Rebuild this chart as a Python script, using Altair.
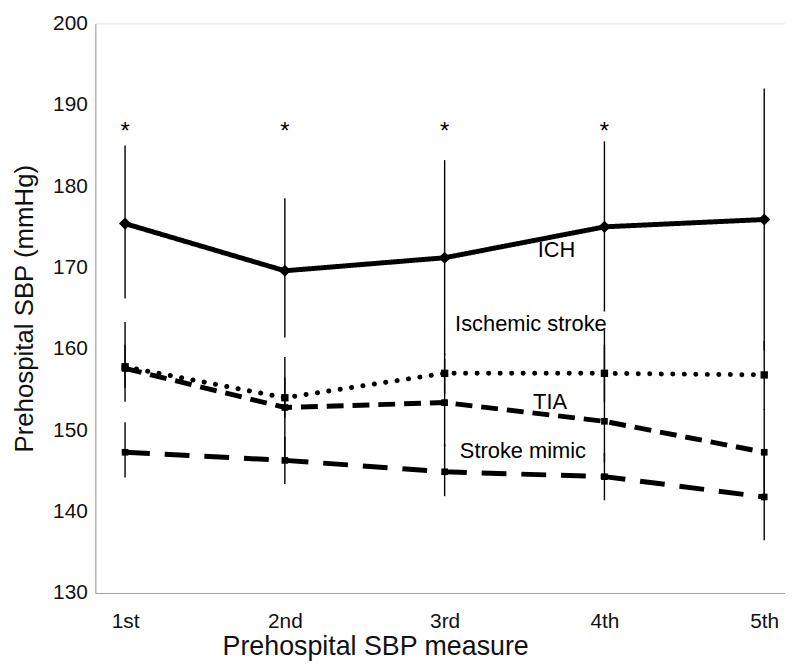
import altair as alt
import pandas as pd

# ---- data ----
measures = ["1st", "2nd", "3rd", "4th", "5th"]
measure_idx = [1, 2, 3, 4, 5]

ich_mean = [175.4, 169.6, 171.2, 175.0, 175.9]
ich_lo = [166.2, 161.4, 159.2, 164.6, 159.8]
ich_hi = [185.0, 178.5, 183.2, 185.5, 192.0]

isch_mean = [157.8, 154.0, 157.0, 157.0, 156.8]
isch_lo = [155.2, 151.5, 154.5, 153.5, 152.5]
isch_hi = [160.5, 156.5, 159.5, 160.5, 161.0]

tia_mean = [157.6, 152.8, 153.4, 151.1, 147.3]
tia_lo = [153.5, 146.6, 148.0, 146.0, 142.0]
tia_hi = [163.3, 159.0, 158.8, 162.4, 152.6]

mimic_mean = [147.3, 146.3, 144.9, 144.3, 141.8]
mimic_lo = [144.2, 143.4, 141.9, 141.4, 136.5]
mimic_hi = [151.0, 149.2, 148.3, 147.2, 147.1]

significance = ["*", "*", "*", "*", ""]
sig_y = [186.6, 186.6, 186.6, 186.6, 186.6]

series_names = ["ICH", "Ischemic stroke", "TIA", "Stroke mimic"]
label_x = [3.7, 3.54, 3.66, 3.49]
label_y = [172.1, 163.0, 153.5, 147.4]

y_ticks = [130, 140, 150, 160, 170, 180, 190, 200]

# ---- build tables ----
series_data = {
    "ICH": (ich_mean, ich_lo, ich_hi),
    "Ischemic stroke": (isch_mean, isch_lo, isch_hi),
    "TIA": (tia_mean, tia_lo, tia_hi),
    "Stroke mimic": (mimic_mean, mimic_lo, mimic_hi),
}
rows = []
for name, (m, lo, hi) in series_data.items():
    for i, idx in enumerate(measure_idx):
        rows.append({"series": name, "idx": idx, "measure": measures[i],
                     "mean": m[i], "lo": lo[i], "hi": hi[i]})
df = pd.DataFrame(rows)

sig_df = pd.DataFrame({"idx": measure_idx, "sig": significance, "y": sig_y})
lab_df = pd.DataFrame({"name": series_names, "x": label_x, "y": label_y})

FONT = "Liberation Sans"
label_expr = "[" + ",".join("'%s'" % m for m in measures) + "][datum.value - 1]"

x_scale = alt.Scale(domain=[0.814, 5.13], nice=False, zero=False)
y_scale = alt.Scale(domain=[130, 200], nice=False, zero=False)

x_enc = alt.X("idx:Q", scale=x_scale,
              axis=alt.Axis(values=measure_idx, labelExpr=label_expr,
                            title="Prehospital SBP measure", grid=False,
                            ticks=False, tickSize=0, labelPadding=18,
                            titleX=282, titleY=54, titleBaseline="middle",
                            labelFontSize=21, titleFontSize=27,
                            labelColor="#111", titleColor="#111",
                            titleFontWeight="normal", domainColor="#a0a0a0",
                            labelFont=FONT, titleFont=FONT))
y_enc_axis = alt.Axis(values=y_ticks, title="Prehospital SBP (mmHg)", grid=False,
                      ticks=False, tickSize=0, labelPadding=8, titlePadding=15,
                      labelFontSize=21, titleFontSize=26, labelColor="#111",
                      titleColor="#111", titleFontWeight="normal",
                      domainColor="#a0a0a0", labelFont=FONT, titleFont=FONT)

base = alt.Chart(df)

errbars = base.mark_rule(color="black", strokeWidth=1.4).encode(
    x=x_enc,
    y=alt.Y("lo:Q", scale=y_scale, axis=y_enc_axis),
    y2="hi:Q",
)

styles = {
    "ICH": dict(strokeDash=[1, 0], strokeCap="butt", shape="diamond", size=150),
    "Ischemic stroke": dict(strokeDash=[0.1, 11.5], strokeCap="round", shape="square", size=55),
    "TIA": dict(strokeDash=[17, 9], strokeCap="butt", shape="square", size=45),
    "Stroke mimic": dict(strokeDash=[25, 15], strokeCap="butt", shape="square", size=45),
}

layers = [errbars]
for name in series_names:
    st = styles[name]
    sub = base.transform_filter(alt.datum.series == name)
    line = sub.mark_line(color="black", strokeWidth=5, strokeDash=st["strokeDash"],
                         strokeCap=st["strokeCap"]).encode(
        x=alt.X("idx:Q", scale=x_scale), y=alt.Y("mean:Q", scale=y_scale))
    pts = sub.mark_point(color="black", filled=True, opacity=1, shape=st["shape"],
                         size=st["size"]).encode(
        x=alt.X("idx:Q", scale=x_scale), y=alt.Y("mean:Q", scale=y_scale))
    layers += [line, pts]

sig = alt.Chart(sig_df).mark_text(fontSize=24, font=FONT, color="black",
                                  baseline="middle").encode(
    x=alt.X("idx:Q", scale=x_scale), y=alt.Y("y:Q", scale=y_scale), text="sig:N")

labels = alt.Chart(lab_df).mark_text(fontSize=22, font=FONT, color="black",
                                     baseline="middle").encode(
    x=alt.X("x:Q", scale=x_scale), y=alt.Y("y:Q", scale=y_scale), text="name:N")

chart = alt.layer(*layers, sig, labels).properties(
    width=695, height=574,
    autosize=alt.AutoSizeParams(type="none"),
    padding={"left": 88, "top": 13, "right": 0, "bottom": 70},
).configure_view(stroke=None).configure(font=FONT)

chart.save("out.html", embed_options={"renderer": "svg", "actions": False})
